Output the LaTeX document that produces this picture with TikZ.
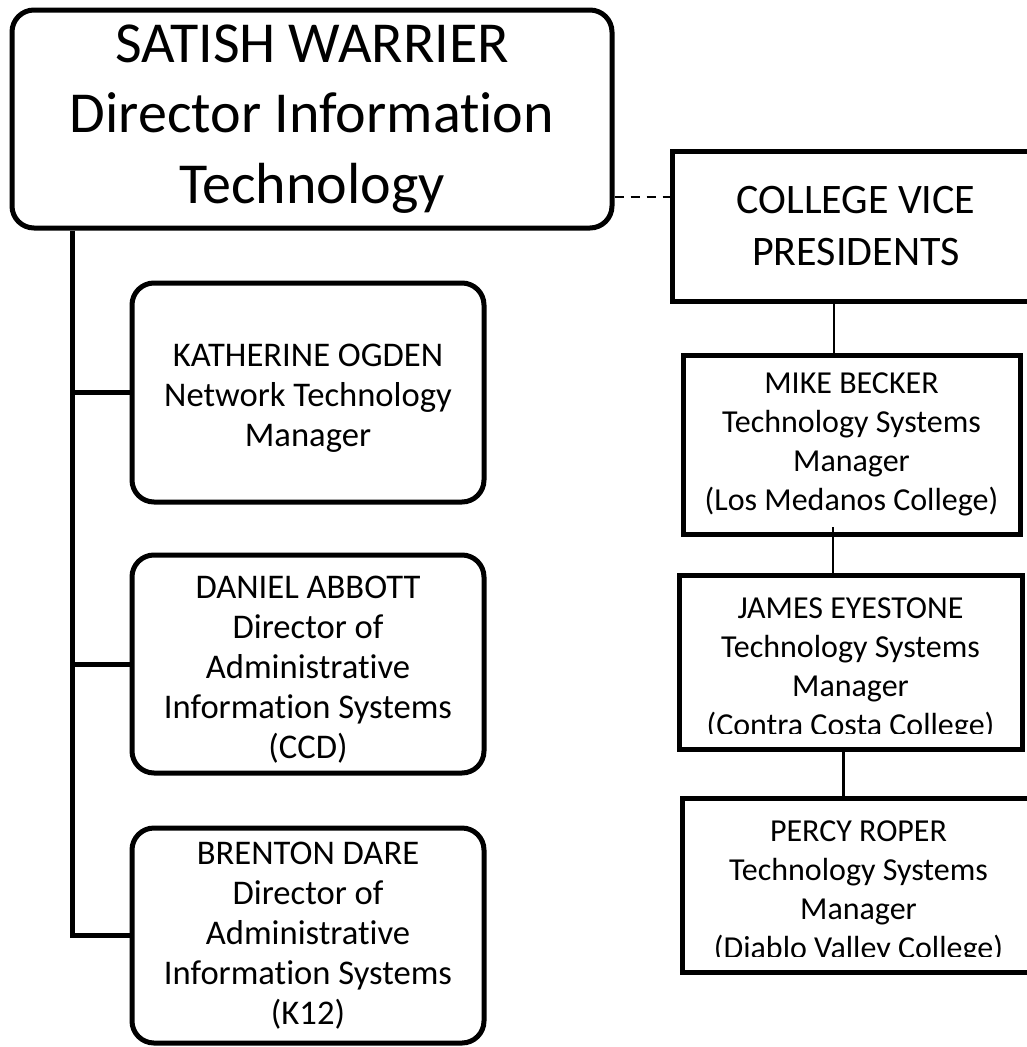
\documentclass[tikz,border=0pt]{standalone}
\usepackage{fontspec}
\setmainfont[Ligatures=NoCommon]{Carlito}
\newcommand{\fstop}{\fontsize{58}{70.5}\selectfont}
\newcommand{\fscvp}{\fontsize{42}{52}\selectfont}
\newcommand{\fsleft}{\fontsize{34.6}{40}\selectfont}
\newcommand{\fsright}{\fontsize{32}{39}\selectfont}
\newcommand{\topgap}{\rule{0pt}{34pt}}
\tikzstyle{block} = [rectangle, draw, line width=5pt, rounded corners=22pt, inner sep=0pt, align=center, minimum width=352pt, font=\fsleft]
\tikzstyle{topblock} = [rectangle, draw, line width=5pt, rounded corners=22pt, inner sep=0pt, align=center, minimum width=600pt, minimum height=218pt, font=\fstop]
\tikzstyle{vpblock} = [rectangle, draw, line width=5pt, inner sep=0pt, align=center]
\tikzstyle{line} = [draw, line width=5pt]
\tikzstyle{thinline} = [draw, line width=2pt]
\tikzstyle{midline} = [draw, line width=3pt]
\tikzstyle{dashline} = [draw, line width=1.6pt, dash pattern=on 9pt off 7pt]
\tikzset{cliptext/.style={path picture={
  \clip ([yshift=16pt]path picture bounding box.south west) rectangle (path picture bounding box.north east);
  \node [draw=none, align=center, font=\fsright] at ([yshift=-7pt]path picture bounding box.center) {#1};}}}

\begin{document}
\begin{tikzpicture}[x=1pt, y=-1pt]
		\useasboundingbox (0,0) rectangle (1027,1047);
		% Place nodes
		\node [topblock] (dir) at (312,119) {SATISH WARRIER\\Director Information\\Technology};
		\node [block, minimum height=219pt] (kath) at (308,392.5) {\topgap KATHERINE OGDEN\\Network Technology\\Manager};
		\node [block, minimum height=218pt] (dan) at (308,664) {\topgap DANIEL ABBOTT\\Director of\\Administrative\\Information Systems\\(CCD)};
		\node [block, minimum height=215pt] (bren) at (308,935.5) {BRENTON DARE\\Director of\\Administrative\\Information Systems\\(K12)};
		\node [vpblock, minimum width=368pt, minimum height=150pt, font=\fscvp] (cvp) at (856,226) {COLLEGE VICE\\PRESIDENTS};
		\node [vpblock, minimum width=337pt, minimum height=179pt, font=\fsright] (mike) at (851.5,444.5) {MIKE BECKER\\Technology Systems\\Manager\\(Los Medanos College)};
		\node [vpblock, minimum width=343pt, minimum height=174pt, cliptext={JAMES EYESTONE\\Technology Systems\\Manager\\(Contra Costa College)}] (james) at (850.5,662) {};
		\node [vpblock, minimum width=353pt, minimum height=174pt, cliptext={PERCY ROPER\\Technology Systems\\Manager\\(Diablo Valley College)}] (percy) at (858.5,885) {};
		% Draw edges
		\coordinate (spine) at ([xshift=63pt]dir.south west);
		\path [line] (spine) |- (bren.west);
		\path [line] (spine |- kath.west) -- (kath.west);
		\path [line] (spine |- dan.west) -- (dan.west);
		\coordinate (dash) at ([yshift=29pt]cvp.west);
		\path [dashline] (dash -| dir.east) -- (dash);
		\coordinate (cm) at ([xshift=-18pt]mike.north);
		\path [thinline] (cm) -- (cm |- cvp.south);
		\coordinate (mj) at ([xshift=-17.5pt]james.north);
		\coordinate (mjtop) at ([yshift=10pt]mike.south);
		\path [thinline] (mj) -- (mj |- mjtop);
		\coordinate (jp) at ([xshift=-7.5pt]james.south);
		\path [midline] (jp) -- (jp |- percy.north);
	\end{tikzpicture}
\end{document}
